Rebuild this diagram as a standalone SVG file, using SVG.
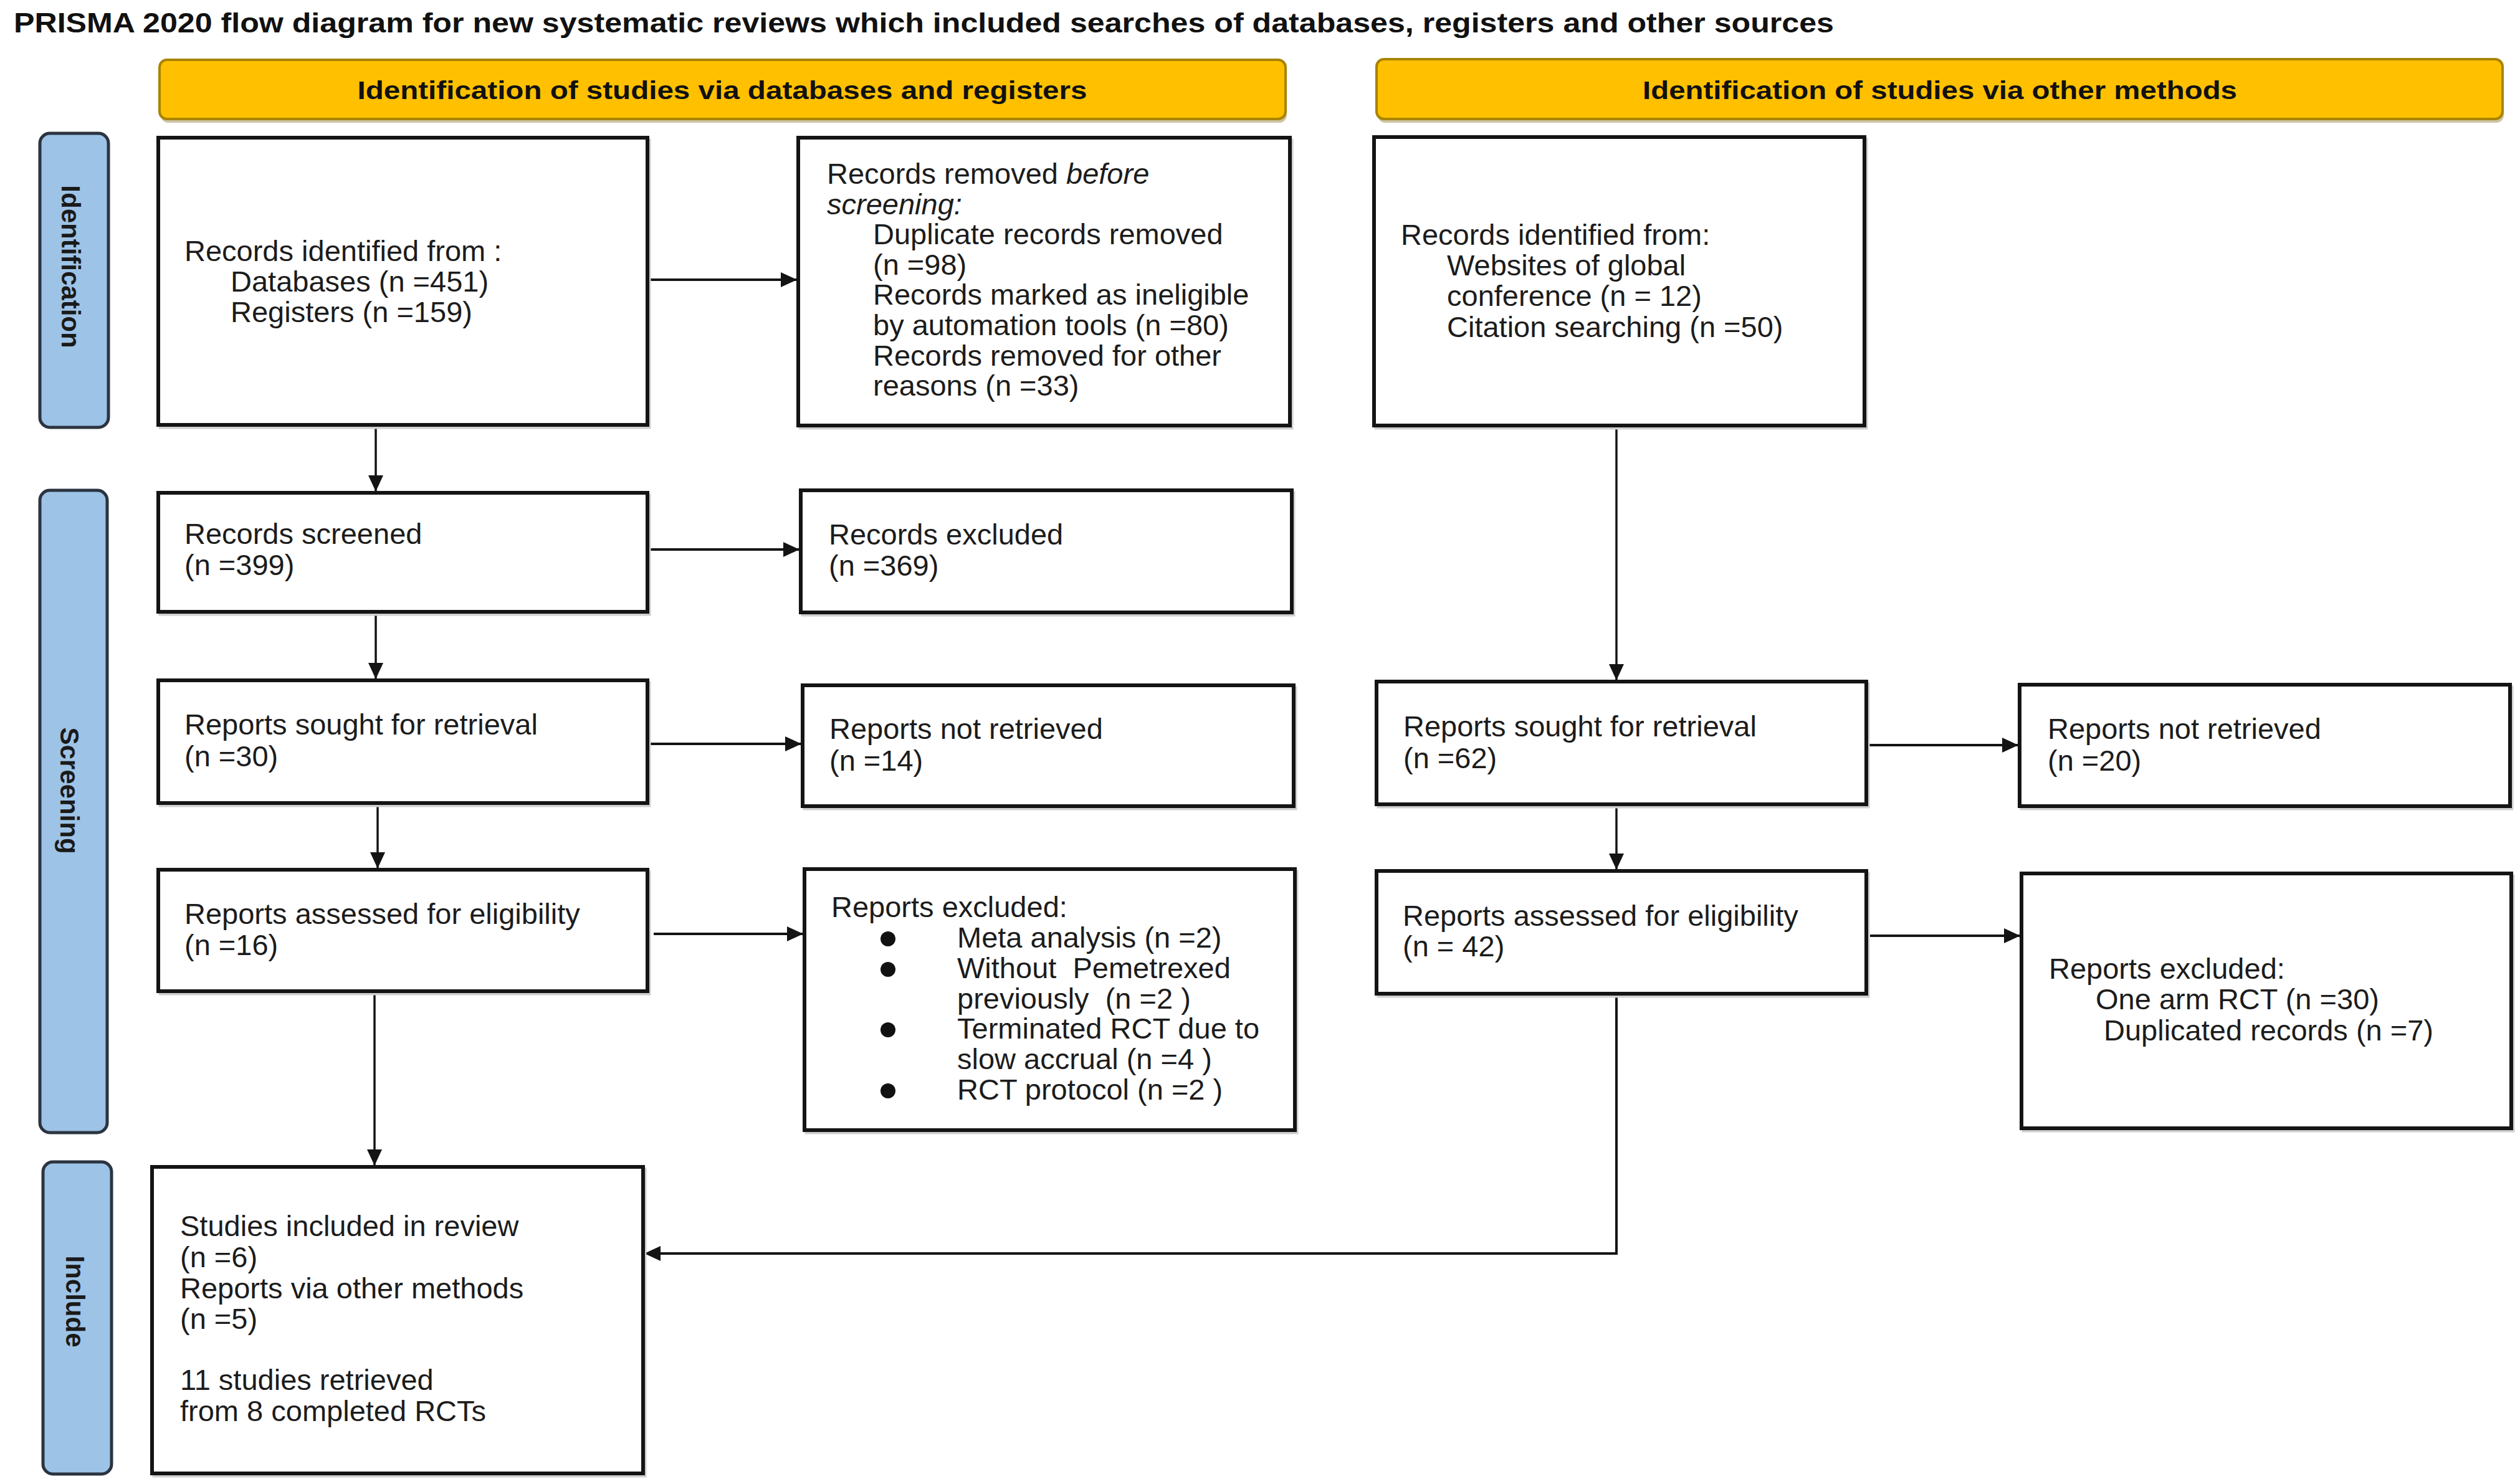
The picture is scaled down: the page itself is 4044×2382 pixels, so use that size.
<svg xmlns="http://www.w3.org/2000/svg" width="4044" height="2382" viewBox="0 0 4044 2382">
<defs>
<style>
.bg{fill:#ffffff}
.box{fill:#ffffff;stroke:#141414;stroke-width:6}
.shadow{fill:none;stroke:#cfcfcf;stroke-width:5}
.hdr{fill:#FFC000;stroke:#A88400;stroke-width:4}
.hdrsh{fill:#cdc4a6}
.side{fill:#9DC3E6;stroke:#2b3440;stroke-width:5}
.t{font-family:"Liberation Sans",Arial,sans-serif;font-size:47px;fill:#1c1c1c}
.it{font-style:italic}
.title{font-family:"Liberation Sans",Arial,sans-serif;font-size:44px;font-weight:bold;fill:#111}
.ht{font-family:"Liberation Sans",Arial,sans-serif;font-size:40px;font-weight:bold;fill:#111;text-anchor:middle}
.st{font-family:"Liberation Sans",Arial,sans-serif;font-size:42px;font-weight:bold;fill:#1a1a1a;text-anchor:middle}
.ln{fill:none;stroke:#141414;stroke-width:4}
.lv{fill:none;stroke:#141414;stroke-width:3.5}
.dot{fill:#111}
</style>
<marker id="ah" markerUnits="userSpaceOnUse" markerWidth="28" markerHeight="26" refX="26" refY="12" orient="auto">
<path d="M0,0 L26,12 L0,24 z" fill="#141414"/>
</marker>
</defs>
<rect class="bg" x="0" y="0" width="4044" height="2382"/>
<text class="title" x="22" y="52" textLength="2921" lengthAdjust="spacingAndGlyphs">PRISMA 2020 flow diagram for new systematic reviews which included searches of databases, registers and other sources</text>

<g id="header-databases">
<rect class="hdrsh" x="258" y="102" width="1807" height="95" rx="12"/>
<rect class="hdr" x="256" y="96" width="1807" height="95" rx="12"/>
<text class="ht" x="1159" y="159" textLength="1171" lengthAdjust="spacingAndGlyphs">Identification of studies via databases and registers</text>
</g>
<g id="header-other">
<rect class="hdrsh" x="2211" y="101" width="1807" height="96" rx="12"/>
<rect class="hdr" x="2209" y="95" width="1807" height="96" rx="12"/>
<text class="ht" x="3113" y="159" textLength="954" lengthAdjust="spacingAndGlyphs">Identification of studies via other methods</text>
</g>

<g id="stage-identification">
<rect class="side" x="64" y="214" width="110" height="472" rx="16"/>
<text class="st" transform="translate(114,428) rotate(90)" dy="0.36em">Identification</text>
</g>
<g id="stage-screening">
<rect class="side" x="64" y="787" width="108" height="1031" rx="16"/>
<text class="st" transform="translate(112,1269) rotate(90)" dy="0.36em">Screening</text>
</g>
<g id="stage-include">
<rect class="side" x="69" y="1865" width="110" height="501" rx="16"/>
<text class="st" transform="translate(121,2089) rotate(90)" dy="0.36em">Include</text>
</g>

<g id="connectors">
<line class="lv" x1="603" y1="682" x2="603" y2="789" marker-end="url(#ah)"/>
<line class="ln" x1="1039" y1="449" x2="1279" y2="449" marker-end="url(#ah)"/>
<line class="ln" x1="1039" y1="882" x2="1283" y2="882" marker-end="url(#ah)"/>
<line class="lv" x1="603" y1="982" x2="603" y2="1090" marker-end="url(#ah)"/>
<line class="ln" x1="1039" y1="1194" x2="1286" y2="1194" marker-end="url(#ah)"/>
<line class="lv" x1="606" y1="1289" x2="606" y2="1394" marker-end="url(#ah)"/>
<line class="ln" x1="1049" y1="1499" x2="1289" y2="1499" marker-end="url(#ah)"/>
<line class="lv" x1="601" y1="1591" x2="601" y2="1871" marker-end="url(#ah)"/>
<line class="lv" x1="2594" y1="683" x2="2594" y2="1092" marker-end="url(#ah)"/>
<line class="ln" x1="2995" y1="1196" x2="3239" y2="1196" marker-end="url(#ah)"/>
<line class="lv" x1="2594" y1="1291" x2="2594" y2="1396" marker-end="url(#ah)"/>
<line class="ln" x1="3001" y1="1502" x2="3242" y2="1502" marker-end="url(#ah)"/>
<path class="ln" d="M2594,1595 V2012 H1034" marker-end="url(#ah)"/>
</g>

<g id="records-identified-db">
<rect class="shadow" x="257" y="225" width="785" height="461"/>
<rect class="box" x="254" y="221" width="785" height="461"/>
<text class="t" x="296" y="419">Records identified from :</text>
<text class="t" x="370" y="468">Databases (n =451)</text>
<text class="t" x="370" y="517">Registers (n =159)</text>
</g>
<g id="records-removed">
<rect class="shadow" x="1284" y="225" width="789" height="462"/>
<rect class="box" x="1281" y="221" width="789" height="462"/>
<text class="t" x="1327" y="295">Records removed <tspan class="it">before</tspan></text>
<text class="t it" x="1327" y="344">screening:</text>
<text class="t" x="1401" y="392">Duplicate records removed</text>
<text class="t" x="1401" y="441">(n =98)</text>
<text class="t" x="1401" y="489">Records marked as ineligible</text>
<text class="t" x="1401" y="538">by automation tools (n =80)</text>
<text class="t" x="1401" y="587">Records removed for other</text>
<text class="t" x="1401" y="635">reasons (n =33)</text>
</g>
<g id="records-identified-other">
<rect class="shadow" x="2208" y="224" width="787" height="463"/>
<rect class="box" x="2205" y="220" width="787" height="463"/>
<text class="t" x="2248" y="393">Records identified from:</text>
<text class="t" x="2322" y="442">Websites of global</text>
<text class="t" x="2322" y="491">conference (n = 12)</text>
<text class="t" x="2322" y="541">Citation searching (n =50)</text>
</g>
<g id="records-screened">
<rect class="shadow" x="257" y="795" width="785" height="191"/>
<rect class="box" x="254" y="791" width="785" height="191"/>
<text class="t" x="296" y="873">Records screened</text>
<text class="t" x="296" y="923">(n =399)</text>
</g>
<g id="records-excluded">
<rect class="shadow" x="1288" y="791" width="788" height="196"/>
<rect class="box" x="1285" y="787" width="788" height="196"/>
<text class="t" x="1330" y="874">Records excluded</text>
<text class="t" x="1330" y="924">(n =369)</text>
</g>
<g id="reports-sought-db">
<rect class="shadow" x="257" y="1096" width="785" height="197"/>
<rect class="box" x="254" y="1092" width="785" height="197"/>
<text class="t" x="296" y="1179">Reports sought for retrieval</text>
<text class="t" x="296" y="1230">(n =30)</text>
</g>
<g id="reports-not-retrieved-db">
<rect class="shadow" x="1291" y="1104" width="788" height="194"/>
<rect class="box" x="1288" y="1100" width="788" height="194"/>
<text class="t" x="1331" y="1186">Reports not retrieved</text>
<text class="t" x="1331" y="1237">(n =14)</text>
</g>
<g id="reports-assessed-db">
<rect class="shadow" x="257" y="1400" width="785" height="195"/>
<rect class="box" x="254" y="1396" width="785" height="195"/>
<text class="t" x="296" y="1483">Reports assessed for eligibility</text>
<text class="t" x="296" y="1533">(n =16)</text>
</g>
<g id="reports-excluded-db">
<rect class="shadow" x="1294" y="1399" width="787" height="419"/>
<rect class="box" x="1291" y="1395" width="787" height="419"/>
<text class="t" x="1334" y="1472">Reports excluded:</text>
<circle class="dot" cx="1425" cy="1507" r="12"/>
<text class="t" x="1536" y="1521">Meta analysis (n =2)</text>
<circle class="dot" cx="1425" cy="1556" r="12"/>
<text class="t" x="1536" y="1570">Without &#160;Pemetrexed</text>
<text class="t" x="1536" y="1619">previously &#160;(n =2 )</text>
<circle class="dot" cx="1425" cy="1653" r="12"/>
<text class="t" x="1536" y="1667">Terminated RCT due to</text>
<text class="t" x="1536" y="1716">slow accrual (n =4 )</text>
<circle class="dot" cx="1425" cy="1751" r="12"/>
<text class="t" x="1536" y="1765">RCT protocol (n =2 )</text>
</g>
<g id="reports-sought-other">
<rect class="shadow" x="2212" y="1098" width="786" height="197"/>
<rect class="box" x="2209" y="1094" width="786" height="197"/>
<text class="t" x="2252" y="1182">Reports sought for retrieval</text>
<text class="t" x="2252" y="1233">(n =62)</text>
</g>
<g id="reports-not-retrieved-other">
<rect class="shadow" x="3244" y="1103" width="787" height="195"/>
<rect class="box" x="3241" y="1099" width="787" height="195"/>
<text class="t" x="3286" y="1186">Reports not retrieved</text>
<text class="t" x="3286" y="1237">(n =20)</text>
</g>
<g id="reports-assessed-other">
<rect class="shadow" x="2212" y="1402" width="786" height="197"/>
<rect class="box" x="2209" y="1398" width="786" height="197"/>
<text class="t" x="2251" y="1486">Reports assessed for eligibility</text>
<text class="t" x="2251" y="1535">(n = 42)</text>
</g>
<g id="reports-excluded-other">
<rect class="shadow" x="3247" y="1406" width="786" height="409"/>
<rect class="box" x="3244" y="1402" width="786" height="409"/>
<text class="t" x="3288" y="1571">Reports excluded:</text>
<text class="t" x="3363" y="1620">One arm RCT (n =30)</text>
<text class="t" x="3376" y="1670">Duplicated records (n =7)</text>
</g>
<g id="studies-included">
<rect class="shadow" x="247" y="1877" width="788" height="492"/>
<rect class="box" x="244" y="1873" width="788" height="492"/>
<text class="t" x="289" y="1984">Studies included in review</text>
<text class="t" x="289" y="2034">(n =6)</text>
<text class="t" x="289" y="2084">Reports via other methods</text>
<text class="t" x="289" y="2133">(n =5)</text>
<text class="t" x="289" y="2231">11 studies retrieved</text>
<text class="t" x="289" y="2281">from 8 completed RCTs</text>
</g>
</svg>
